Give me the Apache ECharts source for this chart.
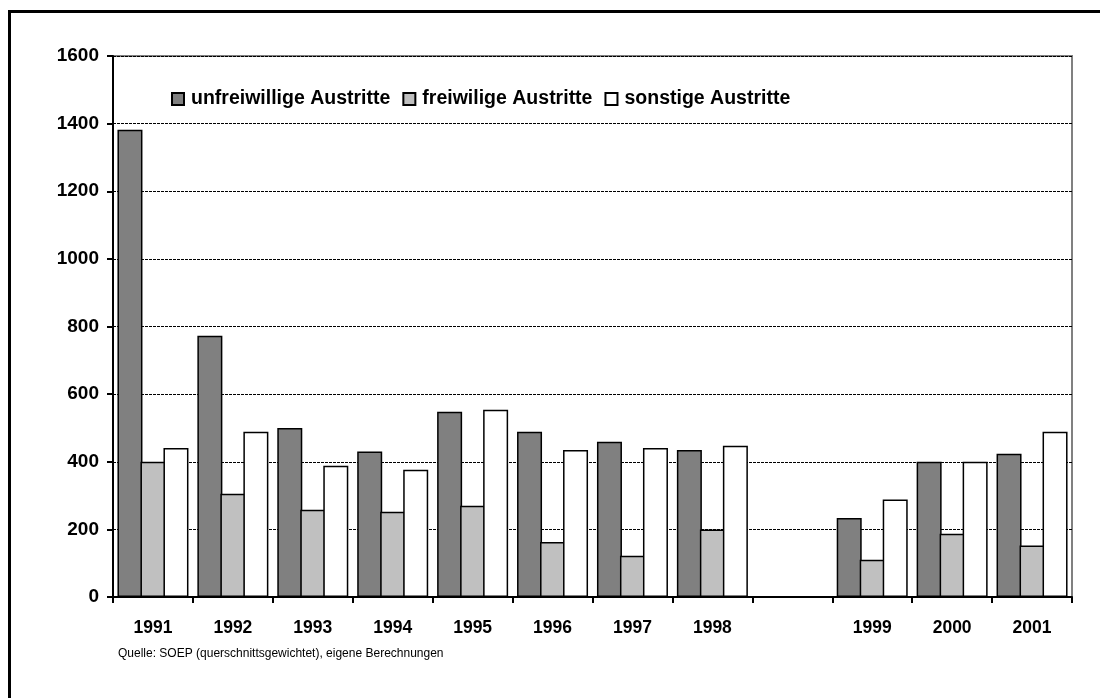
<!DOCTYPE html>
<html>
<head>
<meta charset="utf-8">
<script src="https://cdn.jsdelivr.net/npm/echarts@6/dist/echarts.min.js"></script>
<style>
    html, body { margin: 0; padding: 0; background: #fff; }
    #frame {
        position: absolute; left: 8px; top: 10px; width: 1092px; height: 688px;
        border-left: 3px solid #000; border-top: 3px solid #000; box-sizing: border-box;
    }
    #chart { position: absolute; left: 0; top: 0; width: 1100px; height: 698px; }
</style>
</head>
<body>
<div id="frame"></div>
<div id="chart"></div>
<script>
var years = ['1991', '1992', '1993', '1994', '1995', '1996', '1997', '1998', '', '1999', '2000', '2001'];
var unfreiwillig = [1382, 773, 500, 430, 548, 489, 459, 435, null, 234, 400, 424];
var freiwillig = [400, 305, 258, 252, 270, 163, 122, 200, null, 110, 187, 152];
var sonstige = [441, 489, 388, 376, 554, 435, 441, 447, null, 288, 400, 489];
var yTicks = [0, 200, 400, 600, 800, 1000, 1200, 1400, 1600];

var fontFam = '"Liberation Sans", Arial, sans-serif';

function barSeries(name, values, color) {
    return {
        name: name,
        type: 'bar',
        data: values,
        barWidth: 25,
        barGap: '-8%',
        itemStyle: {color: color, borderColor: '#000', borderWidth: 1.5},
        emphasis: {disabled: true}
    };
}

var chart = echarts.init(document.getElementById('chart'));
chart.setOption({
    animation: false,
    textStyle: {fontFamily: fontFam},
    grid: {
        left: 113, right: 28, top: 56, bottom: 101,
        show: true, borderColor: '#808080', borderWidth: 2
    },
    legend: {
        left: 166, top: 84,
        itemWidth: 12, itemHeight: 12, itemGap: 12,
        icon: 'rect',
        textStyle: {fontFamily: fontFam, fontSize: 19.5, fontWeight: 'bold', color: '#000', padding: [0, 0, 0, 2]},
        data: ['unfreiwillige Austritte', 'freiwilige Austritte', 'sonstige Austritte']
    },
    xAxis: {
        type: 'category',
        data: years,
        axisLine: {lineStyle: {color: '#000', width: 2}},
        axisTick: {show: true, length: 6, lineStyle: {color: '#000', width: 2}},
        axisLabel: {fontFamily: fontFam, fontSize: 17.5, fontWeight: 'bold', color: '#000', margin: 22}
    },
    yAxis: {
        type: 'value',
        min: yTicks[0],
        max: yTicks[yTicks.length - 1],
        interval: 200,
        axisLine: {show: true, lineStyle: {color: '#000', width: 2}},
        axisTick: {show: true, length: 6, lineStyle: {color: '#000', width: 2}},
        axisLabel: {
            fontFamily: fontFam, fontSize: 19, fontWeight: 'bold', color: '#000', margin: 14,
            formatter: function (v) { return String(v); }
        },
        splitLine: {lineStyle: {color: '#000', type: [3, 1], width: 1}}
    },
    graphic: [{
        type: 'text',
        left: 118, top: 648,
        style: {
            text: 'Quelle: SOEP (querschnittsgewichtet), eigene Berechnungen',
            fontFamily: fontFam, fontSize: 12, fill: '#000'
        }
    }],
    series: [
        barSeries('unfreiwillige Austritte', unfreiwillig, '#808080'),
        barSeries('freiwilige Austritte', freiwillig, '#c0c0c0'),
        barSeries('sonstige Austritte', sonstige, '#ffffff')
    ]
});
</script>
</body>
</html>
